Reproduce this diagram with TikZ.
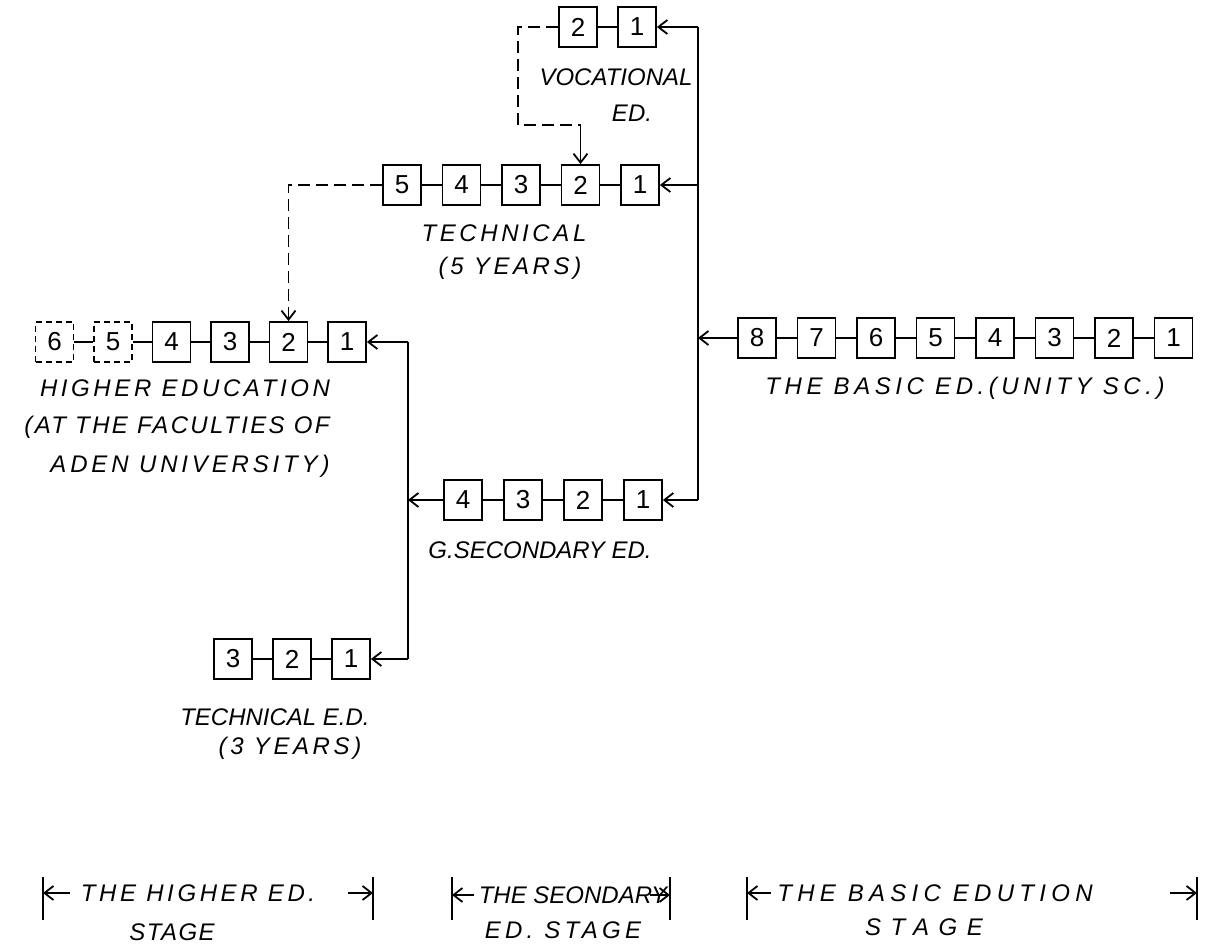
\documentclass[tikz,border=0pt]{standalone}
\usepackage{fontspec}
\setsansfont{Liberation Sans}
\newfontfamily\handfont{Liberation Sans}
\usetikzlibrary{arrows.meta,positioning,calc}
\tikzset{
  yearbox/.style={draw,line width=0.9pt,minimum width=19pt,minimum height=20pt,
    inner sep=0pt,font=\sffamily\fontsize{13}{13}\selectfont},
  openbox/.style={yearbox,dash pattern=on 3pt off 2pt},
  link/.style={line width=0.9pt},
  feed/.style={line width=0.9pt,-{Straight Barb[length=4.5pt,width=7pt]}},
  dashlink/.style={line width=0.9pt,dash pattern=on 6pt off 3pt},
  caption/.style={inner sep=0pt,
    font=\handfont\itshape\fontsize{12}{14}\selectfont\addfontfeature{LetterSpace=#1}},
  caption/.default=15,
}
\begin{document}
\begin{tikzpicture}[x=0.5pt,y=-0.5pt]
  \useasboundingbox (0,0) rectangle (1207,946);
  % 職業教育（2年）
  \foreach \n/\x in {1/637,2/578}
    \node[yearbox] (voc\n) at (\x,27) {\n};
  % 技術教育（5年）
  \foreach \n in {1,...,5}
    \node[yearbox] (tec\n) at ({640-59.5*(\n-1)},185) {\n};
  % 高等教育（5・6年は点線）
  \foreach \n in {1,...,4}
    \node[yearbox] (hig\n) at ({347-58.5*(\n-1)},342) {\n};
  \foreach \n in {5,6}
    \node[openbox] (hig\n) at ({347-58.5*(\n-1)},342) {\n};
  % 基礎教育（8年）
  \foreach \n in {1,...,8}
    \node[yearbox] (bas\n) at ({1173.5-59.5*(\n-1)},338) {\n};
  % 普通中等教育（4年）
  \foreach \n in {1,...,4}
    \node[yearbox] (sec\n) at ({643-60*(\n-1)},500) {\n};
  % 技術教育（3年）
  \foreach \n in {1,2,3}
    \node[yearbox] (ted\n) at ({351-59*(\n-1)},659) {\n};
  % 各列の箱をつなぐ短い線
  \foreach \r/\m in {voc/2,tec/5,hig/6,bas/8,sec/4,ted/3}
    \foreach \n in {2,...,\m}{
      \pgfmathtruncatemacro{\prev}{\n-1}
      \draw[link] (\r\prev.west) -- (\r\n.east);
    }
  % 右側の幹線
  \coordinate (rtop) at (698,27);
  \coordinate (rbot) at (rtop |- sec1);
  \draw[link] (rtop) -- (rbot);
  \draw[feed] (rtop) -- (voc1.east);
  \draw[feed] (rtop |- tec1) -- (tec1.east);
  \draw[feed] (bas8.west) -- (rtop |- bas8);
  \draw[feed] (rbot) -- (sec1.east);
  % 左側の幹線
  \coordinate (ltop) at (408,342);
  \coordinate (lbot) at (ltop |- ted1);
  \draw[link] (ltop) -- (lbot);
  \draw[feed] (ltop) -- (hig1.east);
  \draw[feed] (sec4.west) -- (ltop |- sec4);
  \draw[feed] (lbot) -- (ted1.east);
  % 職業教育から技術教育2年への点線
  \coordinate (vbend) at (518,125);
  \draw[dashlink] (voc2.west) -- (vbend |- voc2) -- (vbend) -- (vbend -| tec2);
  \draw[feed] (vbend -| tec2) -- (tec2.north);
  % 技術教育5年から高等教育2年への点線
  \draw[dashlink,-{Straight Barb[length=4.5pt,width=7pt]}]
    (tec5.west) -- (hig2 |- tec5) -- (hig2.north);
  % 各列の名前
  \node[caption=0] (vocname) at (616,77) {VOCATIONAL};
  \node[caption=0] (vocname2) at (632,113) {ED.};
  \node[caption] (tecname) at (504,233) {TECHNICAL};
  \node[caption] (tecname2) at (510,268) {(5 YEARS)};
  \node[caption] (higname) at (185,388) {HIGHER EDUCATION};
  \node[caption=10] (higname2) at (177,427) {(AT THE FACULTIES OF};
  \node[caption=16] (higname3) at (190,466) {ADEN UNIVERSITY)};
  \node[caption=19] (basname) at (965,388) {THE BASIC ED.(UNITY SC.)};
  \node[caption=0] (secname) at (540,550) {G.SECONDARY ED.};
  \node[caption=0] (tedname) at (275,717) {TECHNICAL E.D.};
  \node[caption] (tedname2) at (290,748) {(3 YEARS)};
  % 段階の範囲（下段）
  \foreach \s/\x in {h0/43,h1/373,s0/452,s1/670,b0/747,b1/1197}
    \coordinate (\s) at (\x,877);
  \foreach \s in {h0,h1,s0,s1,b0,b1}
    \draw[link] (\s) -- ++(0,43);
  \node[caption] (hstage) at (198,893) {THE HIGHER ED.};
  \node[caption=6] (hstage2) at (172,932) {STAGE};
  \node[caption=0] (sstage) at (573,895) {THE SEONDARY};
  \node[caption=18] (sstage2) at (563,930) {ED. STAGE};
  \node[caption=22] (bstage) at (935,893) {THE BASIC EDUTION};
  \node[caption=40] (bstage2) at (924,927) {STAGE};
  \draw[feed] ([xshift=-5pt]hstage.west) -- (h0 |- hstage);
  \draw[feed] ($(h1 |- hstage)+(-25,0)$) -- (h1 |- hstage);
  \draw[feed] ([xshift=-2pt]sstage.west) -- (s0 |- sstage);
  \draw[feed] ($(s1 |- sstage)+(-20,0)$) -- (s1 |- sstage);
  \draw[feed] ([xshift=-3pt]bstage.west) -- (b0 |- bstage);
  \draw[feed] ($(b1 |- bstage)+(-27,0)$) -- (b1 |- bstage);
\end{tikzpicture}
\end{document}
